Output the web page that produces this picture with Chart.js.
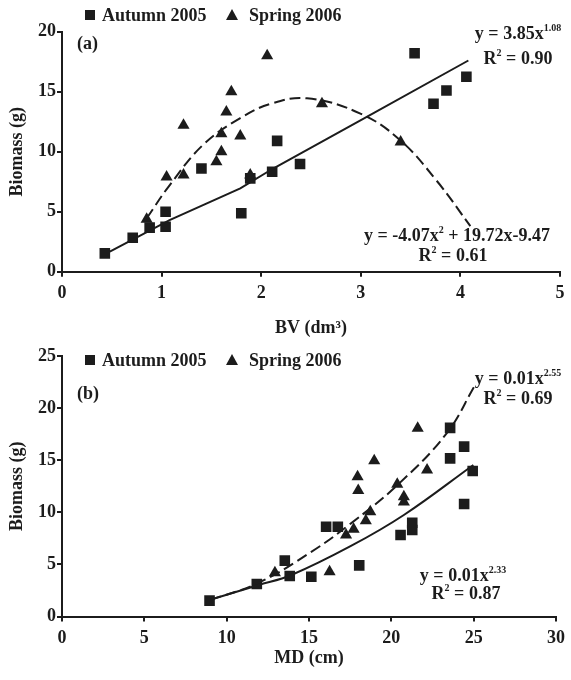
<!DOCTYPE html>
<html>
<head>
<meta charset="utf-8">
<script src="https://cdn.jsdelivr.net/npm/chart.js@4.4.1/dist/chart.umd.min.js"></script>
<style>
  html, body { margin: 0; padding: 0; background: #fff; }
  #wrap { position: relative; width: 571px; height: 680px; }
  canvas { position: absolute; left: 0; }
  #chartA { top: 0; }
  #chartB { top: 340px; }
</style>
</head>
<body>
<div id="wrap">
  <canvas id="chartA" width="571" height="340"></canvas>
  <canvas id="chartB" width="571" height="340"></canvas>
</div>
<script>
// (a) biomass against BV
const bvAutumnX = [0.43, 0.71, 0.88, 1.04, 1.04, 1.40, 1.80, 1.89, 2.11, 2.16, 2.39, 3.54, 3.73, 3.86, 4.06];
const bvAutumnY = [1.53, 2.83, 3.67, 3.75, 5.0, 8.6, 4.87, 7.78, 8.33, 10.9, 8.97, 18.2, 14.0, 15.1, 16.25];
const bvSpringX = [0.85, 1.05, 1.22, 1.22, 1.55, 1.60, 1.60, 1.65, 1.70, 1.79, 1.89, 2.06, 2.61, 3.40];
const bvSpringY = [4.37, 7.9, 8.06, 12.2, 9.17, 10.0, 11.5, 13.3, 15.0, 11.3, 8.06, 18.0, 14.0, 10.8];
// fitted curves
const bvPowerX = [0.48, 1.08, 1.79, 2.12, 3.06, 4.08];
const bvPowerY = [1.67, 4.3, 6.95, 8.6, 12.9, 17.6];
const bvQuadX = [0.85, 1.08, 1.42, 1.79, 2.10, 2.46, 2.99, 3.39, 3.76, 4.10];
const bvQuadY = [4.45, 7.2, 10.6, 12.8, 14.0, 14.45, 13.2, 11.0, 7.6, 3.8];

// (b) biomass against MD
const mdAutumnX = [8.96, 11.83, 13.53, 13.83, 15.14, 16.04, 16.75, 18.05, 20.56, 21.27, 21.27, 23.57, 23.57, 24.42, 24.42, 24.94];
const mdAutumnY = [1.52, 3.12, 5.36, 3.89, 3.82, 8.62, 8.62, 4.91, 7.82, 9.0, 8.3, 18.1, 15.18, 16.3, 10.8, 13.96];
const mdSpringX = [12.93, 16.25, 17.25, 17.71, 17.95, 17.99, 18.45, 18.72, 18.96, 20.36, 20.76, 20.76, 21.6, 22.17];
const mdSpringY = [4.2, 4.3, 7.82, 8.37, 13.4, 12.1, 9.2, 10.06, 14.95, 12.7, 11.5, 11.0, 18.06, 14.06];
const mdAutumnFitX = [9.0, 11.9, 13.93, 17.55, 20.76, 24.98];
const mdAutumnFitY = [1.6, 3.0, 3.98, 6.77, 9.74, 14.54];
const mdSpringFitX = [9.0, 11.9, 15.14, 17.55, 20.36, 23.37, 25.08];
const mdSpringFitY = [1.6, 3.2, 6.2, 8.94, 12.6, 17.6, 22.2];

const seriesNames = ['Autumn 2005', 'Spring 2006'];

const ink = '#1c1c1c';
const serif = '"Liberation Serif", "Times New Roman", serif';

const zip = (xs, ys) => xs.map((x, i) => ({ x, y: ys[i] }));

// text pieces: [text, isSuperscript]
function drawPieces(ctx, pieces, cx, baseline) {
  const fonts = pieces.map(p => p[1] ? `bold 10px ${serif}` : `bold 18px ${serif}`);
  let total = 0;
  const widths = pieces.map((p, i) => {
    ctx.font = fonts[i];
    const w = ctx.measureText(p[0]).width;
    total += w;
    return w;
  });
  let x = cx - total / 2;
  ctx.textAlign = 'left';
  ctx.textBaseline = 'alphabetic';
  pieces.forEach((p, i) => {
    ctx.font = fonts[i];
    ctx.fillText(p[0], x, p[1] ? baseline - 8 : baseline);
    x += widths[i];
  });
}

const notesPlugin = {
  id: 'notes',
  afterDraw(chart, args, opts) {
    const ctx = chart.ctx;
    ctx.save();
    ctx.fillStyle = ink;

    // legend
    const ly = opts.legendY;
    ctx.fillRect(85, ly - 5, 10, 10);
    ctx.beginPath();
    ctx.moveTo(232, ly - 6);
    ctx.lineTo(238, ly + 5);
    ctx.lineTo(226, ly + 5);
    ctx.closePath();
    ctx.fill();
    ctx.font = `bold 18px ${serif}`;
    ctx.textAlign = 'left';
    ctx.textBaseline = 'alphabetic';
    ctx.fillText(seriesNames[0], 102, ly + 6);
    ctx.fillText(seriesNames[1], 249, ly + 6);

    // panel letter
    ctx.fillText(opts.letter, 77, opts.letterY);

    opts.notes.forEach(n => drawPieces(ctx, n.pieces, n.x, n.y));
    ctx.restore();
  }
};

function axis(min, max, step, width, height, title, titlePad) {
  return {
    type: 'linear',
    min, max,
    ticks: {
      stepSize: step,
      color: ink,
      padding: width ? 1 : 6,
      font: { family: serif, size: 18, weight: 'bold' },
    },
    grid: {
      drawOnChartArea: false,
      drawTicks: true,
      tickLength: 5,
      color: ink,
      lineWidth: 2,
    },
    border: { display: true, color: ink, width: 2 },
    title: {
      display: true,
      text: title,
      color: ink,
      font: { family: serif, size: 18, weight: 'bold' },
      padding: titlePad,
    },
    afterFit: s => {
      if (width) s.width = width;
      if (height) s.height = height;
    },
  };
}

function marks(data, style, radius) {
  return { data, pointStyle: style, pointRadius: radius, pointHoverRadius: radius,
    backgroundColor: ink, borderColor: ink, borderWidth: 0, showLine: false };
}

function curve(data, dash, tension) {
  return { data, showLine: true, pointRadius: 0, borderColor: ink, borderWidth: 2,
    borderDash: dash, tension, fill: false };
}

function makeChart(id, datasets, x, y, top, notes) {
  return new Chart(document.getElementById(id), {
    type: 'scatter',
    data: { datasets },
    options: {
      responsive: false,
      animation: false,
      layout: { padding: { left: 0, right: 11, top, bottom: 0 } },
      plugins: {
        legend: { display: false },
        tooltip: { enabled: false },
        notes,
      },
      scales: { x, y },
    },
    plugins: [notesPlugin],
  });
}

makeChart('chartA', [
    curve(zip(bvPowerX, bvPowerY), [], 0),
    curve(zip(bvQuadX, bvQuadY), [11, 5], 0.4),
    marks(zip(bvAutumnX, bvAutumnY), 'rect', 7.5),
    marks(zip(bvSpringX, bvSpringY), 'triangle', 7),
  ],
  axis(0, 5, 1, 0, 68.3, 'BV (dm³)', { top: 0, bottom: 1 }),
  axis(0, 20, 5, 62, 0, 'Biomass (g)', { top: 7, bottom: 0 }),
  31.7,
  {
    legendY: 15, letter: '(a)', letterY: 49,
    notes: [
      { x: 518, y: 39, pieces: [['y = 3.85x', false], ['1.08', true]] },
      { x: 518, y: 64, pieces: [['R', false], ['2', true], [' = 0.90', false]] },
      { x: 457, y: 241, pieces: [['y = -4.07x', false], ['2', true], [' + 19.72x-9.47', false]] },
      { x: 453, y: 261, pieces: [['R', false], ['2', true], [' = 0.61', false]] },
    ],
  });

makeChart('chartB', [
    curve(zip(mdAutumnFitX, mdAutumnFitY), [], 0.4),
    curve(zip(mdSpringFitX, mdSpringFitY), [11, 5], 0.4),
    marks(zip(mdAutumnX, mdAutumnY), 'rect', 7.5),
    marks(zip(mdSpringX, mdSpringY), 'triangle', 7),
  ],
  axis(0, 30, 5, 0, 63.5, 'MD (cm)', { top: 0, bottom: 11 }),
  axis(0, 25, 5, 62, 0, 'Biomass (g)', { top: 7, bottom: 0 }),
  16,
  {
    legendY: 20, letter: '(b)', letterY: 59,
    notes: [
      { x: 518, y: 44, pieces: [['y = 0.01x', false], ['2.55', true]] },
      { x: 518, y: 64, pieces: [['R', false], ['2', true], [' = 0.69', false]] },
      { x: 463, y: 241, pieces: [['y = 0.01x', false], ['2.33', true]] },
      { x: 466, y: 259, pieces: [['R', false], ['2', true], [' = 0.87', false]] },
    ],
  });
</script>
</body>
</html>
